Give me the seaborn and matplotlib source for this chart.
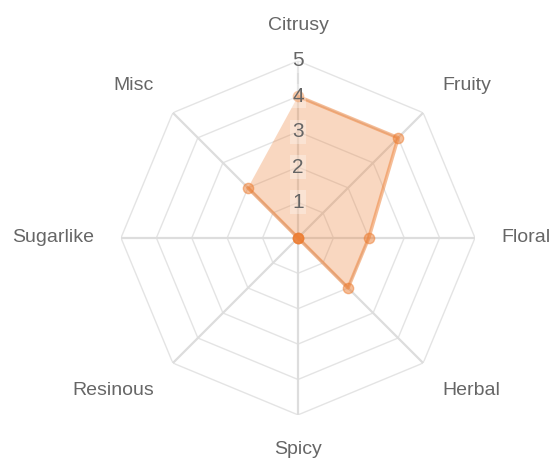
"""
Flavour profile radar chart.
"""

import numpy as np
import pandas as pd
import matplotlib.pyplot as plt
import seaborn as sns

categories = ["Citrusy", "Fruity", "Floral", "Herbal", "Spicy", "Resinous", "Sugarlike", "Misc"]
scores = [4, 4, 2, 2, 0, 0, 0, 2]
ring_levels = [1, 2, 3, 4, 5]
tick_labels = ["1", "2", "3", "4", "5"]

ORANGE = "#ED7D31"
TEXT = "#666666"


def draw_radar():
    sns.set_theme(style="white")
    plt.rcParams["font.family"] = ["Liberation Sans", "DejaVu Sans"]

    fig = plt.figure(figsize=(5.54, 4.63), dpi=100)
    ax = fig.add_axes([0.2184, 0.1037, 0.639, 0.765], projection="polar")
    ax.set_theta_zero_location("N")
    ax.set_theta_direction(-1)
    ax.set_ylim(0, 5)
    ax.grid(False)
    ax.spines["polar"].set_visible(False)
    ax.set_xticks([])
    ax.set_yticks([])
    ax.patch.set_alpha(0)

    n = len(categories)
    angles = np.linspace(0, 2 * np.pi, n, endpoint=False)
    closed_angles = np.append(angles, angles[0])

    # polygon rings
    for level in ring_levels:
        ax.plot(closed_angles, [level] * (n + 1), color="#e4e4e4", lw=1.0, zorder=1)
    # spokes
    for a in angles:
        ax.plot([a, a], [0, ring_levels[-1]], color="#dddddd", lw=1.6, zorder=1)

    df = pd.DataFrame({
        "angle": closed_angles,
        "score": scores + scores[:1],
    })
    ax.fill(df["angle"], df["score"], color=ORANGE, alpha=0.3, lw=0, zorder=2)
    sns.lineplot(data=df, x="angle", y="score", sort=False, ax=ax,
                 color=ORANGE, alpha=0.5, lw=2.5, zorder=3)
    sns.scatterplot(x=angles, y=scores, ax=ax, s=55, color=ORANGE, alpha=0.5,
                    edgecolor=ORANGE, linewidth=1, zorder=4)
    ax.set_xlabel("")
    ax.set_ylabel("")

    # tick labels on the vertical axis
    for level, label in zip(ring_levels, tick_labels):
        ax.text(0, level, label, ha="center", va="center", fontsize=15, color=TEXT,
                zorder=5,
                bbox=dict(boxstyle="square,pad=0.12", facecolor="white",
                          edgecolor="none", alpha=0.3))

    # point labels
    label_r = 5.75
    for a, name in zip(angles, categories):
        sx, cy = np.sin(a), np.cos(a)
        ha = "center" if abs(sx) < 0.1 else ("left" if sx > 0 else "right")
        va = "center" if abs(cy) < 0.1 else ("bottom" if cy > 0 else "top")
        ax.text(a, label_r, name, ha=ha, va=va, fontsize=14, color=TEXT)

    fig.savefig("out.png", dpi=100)
    plt.close(fig)


if __name__ == "__main__":
    draw_radar()
